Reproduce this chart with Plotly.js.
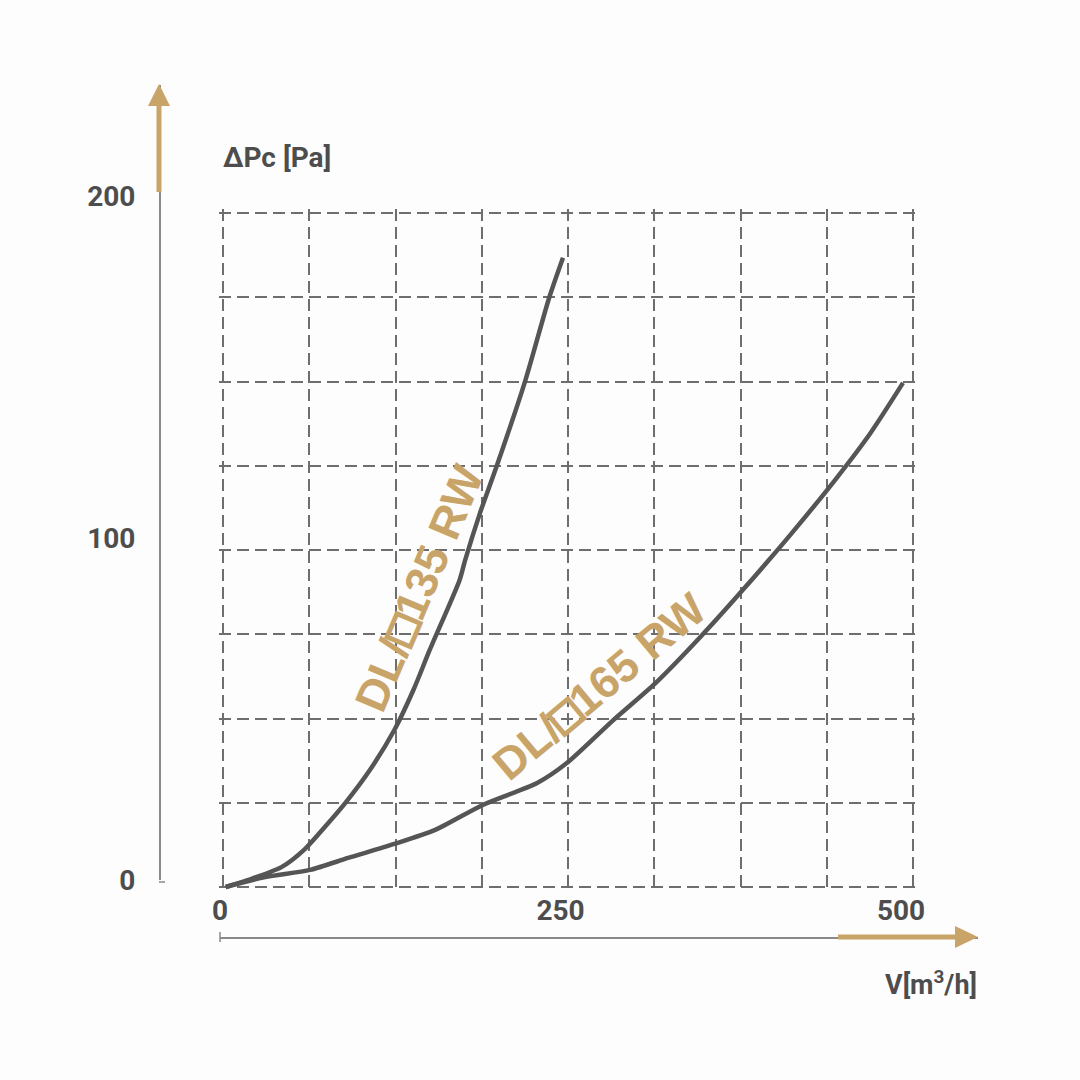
<!DOCTYPE html>
<html>
<head>
<meta charset="utf-8">
<script src="https://cdn.plot.ly/plotly-3.0.1.min.js"></script>
<style>
html,body{margin:0;padding:0;background:#fdfdfd;}
#chart{width:1080px;height:1080px;}
</style>
</head>
<body>
<div id="chart"></div>
<script>
// ---- data (V in m3/h, pressure drop in Pa) ----
const seriesNames = ["DL/\u25A1135 RW", "DL/\u25A1165 RW"];
const flow135 = [2, 18, 43, 60, 75, 90, 108, 126, 140, 152, 174, 178, 189, 201, 222, 240, 250];
const dp135   = [0, 2.0, 5.8, 11.0, 17.6, 24.6, 34.2, 45.9, 57.6, 69.3, 89.8, 95.5, 109.4, 122.8, 147.7, 172.5, 184];
const flow165 = [2, 31, 64, 92, 126, 156, 191, 231, 253, 287, 318, 351, 381, 417, 450, 476, 500];
const dp165   = [0, 2.9, 5.0, 8.5, 12.6, 16.7, 24.0, 30.4, 36.3, 48.8, 59.6, 73.1, 86.3, 102.9, 119, 132.7, 147.4];
const xTickVals = [0, 250, 500];
const yTickVals = [0, 100, 200];
const yTitle = "\u0394Pc [Pa]";
const xTitle = "V[m<sup>3</sup>/h]";

// ---- layout helpers (pixel -> paper) ----
const W = 1080, H = 1080;
const fx = p => p / W;
const fy = p => 1 - p / H;
const GOLD = "#c9a468";
const TXT = "#4d4d4d";
const AXFONT = "Roboto, Liberation Sans, sans-serif";
const LBLFONT = "Liberation Sans, Arial, sans-serif";

// main (grid) axes scale
const XS = 1.36, X0 = 223;   // px per unit, px of 0
const YS = 3.42, Y0 = 887;
const gridX = [], gridY = [];
for (let k = 0; k <= 8; k++) {
  gridX.push((Math.round(X0 + k * 690 / 8) - X0) / XS);
  gridY.push((Y0 - Math.round(Y0 - k * 674 / 8)) / YS);
}

function labelText(name) {
  return name.replace("\u25A1",
    "<span style=\"font-family:'Liberation Sans';stroke:" + GOLD + ";stroke-width:3px\">\u25A1</span>");
}

const traces = [
  { x: flow135, y: dp135, name: seriesNames[0], type: "scatter", mode: "lines",
    line: { color: "#555555", width: 4.5, shape: "spline", smoothing: 0.7 }, hoverinfo: "x+y+name" },
  { x: flow165, y: dp165, name: seriesNames[1], type: "scatter", mode: "lines",
    line: { color: "#555555", width: 4.5, shape: "spline", smoothing: 0.7 }, hoverinfo: "x+y+name" },
  { x: [0], y: [0], xaxis: "x2", yaxis: "y2", type: "scatter", mode: "markers",
    marker: { opacity: 0 }, hoverinfo: "skip", showlegend: false }
];

const gridStyle = { showgrid: true, gridcolor: "#6e6e6e", gridwidth: 2, griddash: "12px,6px",
  zeroline: false, showline: false, ticks: "", showticklabels: false, fixedrange: true };

function tri(pts) {
  return "M " + pts.map(p => fx(p[0]) + "," + fy(p[1])).join(" L ") + " Z";
}

const layout = {
  width: W, height: H,
  margin: { l: 0, r: 0, t: 0, b: 0 },
  paper_bgcolor: "#fdfdfd",
  plot_bgcolor: "rgba(0,0,0,0)",
  showlegend: false,
  xaxis: Object.assign({}, gridStyle, {
    domain: [fx(219), fx(917)],
    range: [(219 - X0) / XS, (917 - X0) / XS],
    tickmode: "array", tickvals: gridX
  }),
  yaxis: Object.assign({}, gridStyle, {
    domain: [fy(891), fy(209)],
    range: [(Y0 - 891) / YS, (Y0 - 209) / YS],
    tickmode: "array", tickvals: gridY
  }),
  xaxis2: {
    anchor: "free", position: fy(937), side: "top",
    domain: [fx(220), fx(978)],
    range: [0, (978 - 220) / 1.362],
    tickmode: "array", tickvals: xTickVals, ticktext: xTickVals.map(String),
    showline: true, linecolor: "#8a8a8a", linewidth: 1.5,
    showgrid: false, zeroline: false, ticks: "", ticklabelstandoff: 6,
    tickfont: { family: AXFONT, size: 28, color: TXT, weight: "bold" }, fixedrange: true
  },
  yaxis2: {
    anchor: "free", position: fx(159), side: "left",
    domain: [fy(880), fy(85)],
    range: [0, (880 - 85) / 3.42],
    tickmode: "array", tickvals: yTickVals, ticktext: yTickVals.map(String),
    showline: true, linecolor: "#8a8a8a", linewidth: 1.5,
    showgrid: false, zeroline: false, ticks: "", ticklabelstandoff: 18,
    tickfont: { family: AXFONT, size: 28, color: TXT, weight: "bold" }, fixedrange: true
  },
  shapes: [
    { type: "line", xref: "paper", yref: "paper", x0: fx(159), x1: fx(159), y0: fy(192), y1: fy(104),
      line: { color: GOLD, width: 5 } },
    { type: "path", xref: "paper", yref: "paper", path: tri([[148, 106], [170, 106], [159, 84]]),
      fillcolor: GOLD, line: { width: 0 } },
    { type: "line", xref: "paper", yref: "paper", x0: fx(838), x1: fx(957), y0: fy(937), y1: fy(937),
      line: { color: GOLD, width: 5 } },
    { type: "path", xref: "paper", yref: "paper", path: tri([[955, 926], [955, 948], [978, 937]]),
      fillcolor: GOLD, line: { width: 0 } },
    { type: "line", xref: "paper", yref: "paper", x0: fx(159), x1: fx(165), y0: fy(882), y1: fy(882),
      line: { color: "#8a8a8a", width: 1.5 } },
    { type: "line", xref: "paper", yref: "paper", x0: fx(220), x1: fx(220), y0: fy(932), y1: fy(942),
      line: { color: "#8a8a8a", width: 1.5 } }
  ],
  annotations: [
    { text: yTitle, xref: "paper", yref: "paper", x: fx(221), y: fy(158), xanchor: "left", yanchor: "middle",
      showarrow: false, font: { family: AXFONT, size: 28, color: TXT, weight: "bold" } },
    { text: xTitle, xref: "paper", yref: "paper", x: fx(979), y: fy(983), xanchor: "right", yanchor: "middle",
      showarrow: false, font: { family: AXFONT, size: 27, color: TXT, weight: "bold" } },
    { text: labelText(seriesNames[0]), xref: "paper", yref: "paper", x: fx(419), y: fy(588), xanchor: "center", yanchor: "middle",
      textangle: -67, showarrow: false, font: { family: LBLFONT, size: 45, color: GOLD, weight: "bold" } },
    { text: labelText(seriesNames[1]), xref: "paper", yref: "paper", x: fx(599), y: fy(686), xanchor: "center", yanchor: "middle",
      textangle: -40, showarrow: false, font: { family: LBLFONT, size: 45, color: GOLD, weight: "bold" } }
  ]
};

Plotly.newPlot("chart", traces, layout, { displayModeBar: false, staticPlot: true });
</script>
</body>
</html>
